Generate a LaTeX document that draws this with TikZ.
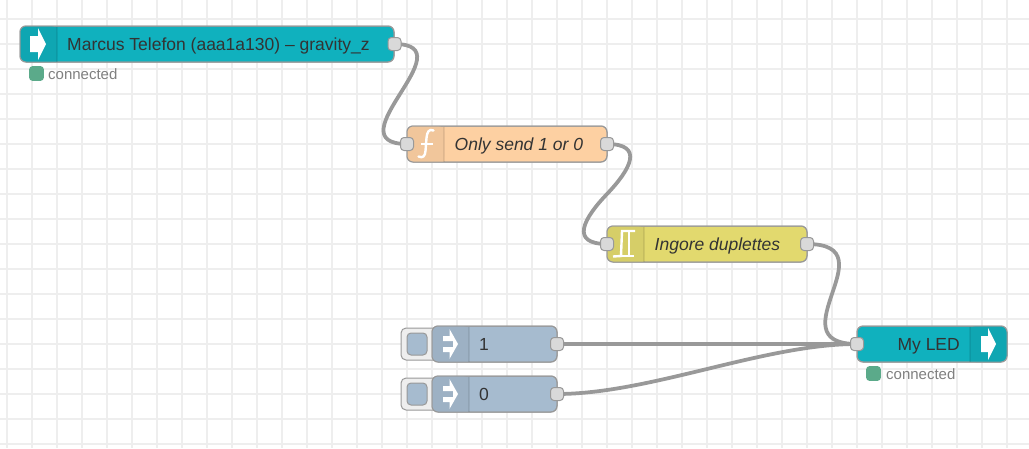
\documentclass[tikz,border=0pt]{standalone}
\usepackage{fontspec}
\setmainfont{Liberation Sans}
\definecolor{gridc}{HTML}{EEEEEE}
\definecolor{wirec}{HTML}{999999}
\definecolor{teal}{HTML}{10B1BE}
\definecolor{tealicon}{HTML}{0FA6B2}
\definecolor{peach}{HTML}{FDD0A2}
\definecolor{peachicon}{HTML}{F1C69B}
\definecolor{olive}{HTML}{E2D96E}
\definecolor{oliveicon}{HTML}{D6CE68}
\definecolor{steel}{HTML}{A6BBCF}
\definecolor{steelicon}{HTML}{9DB1C4}
\definecolor{portc}{HTML}{D9D9D9}
\definecolor{statusc}{HTML}{5BAA8A}
\definecolor{textc}{HTML}{333333}
\tikzset{
  x=1pt,y=-1pt,
  flownode/.style={draw=wirec,line width=1pt,rounded corners=6pt},
  iconsep/.style={draw=black,draw opacity=0.08,line width=1.25pt},
  portbox/.style={draw=wirec,fill=portc,line width=1pt,rounded corners=3.5pt,minimum width=13pt,minimum height=13pt,inner sep=0pt,outer sep=0pt},
  wire/.style={draw=wirec,line width=3.75pt},
  lbl/.style={font=\fontsize{17.5}{20}\selectfont,text=textc,inner sep=0pt,anchor=base west},
  ilbl/.style={lbl,font=\fontsize{17.5}{20}\selectfont\itshape},
  statuslbl/.style={font=\fontsize{15}{18}\selectfont,text=black!50,inner sep=0pt,anchor=base west},
  statusdot/.style={fill=statusc,draw=statusc,line width=1pt,rounded corners=3pt},
  glyph/.style={fill=white,draw=none},
  glyphline/.style={draw=white,line width=2.4pt}
}
\begin{document}
\begin{tikzpicture}
\useasboundingbox (0,0) rectangle (1029,448);
\fill[white] (0,0) rectangle (1029,448);
% grid
\foreach \gx in {7,32,...,1029} \draw[gridc,line width=2pt] (\gx,0) -- (\gx,448);
\foreach \gy in {19,44,...,448} \draw[gridc,line width=2pt] (0,\gy) -- (1029,\gy);

% wires
\coordinate (w1a) at (394.5,44);
\coordinate (w2b) at (407,144);
\coordinate (w2a) at (607,144);
\coordinate (w3b) at (607,244);
\coordinate (w3a) at (807,244);
\coordinate (w4a) at (557,344);
\coordinate (w5a) at (557,394);
\coordinate (w6b) at (857,344);
\draw[wire] (w1a) .. controls (432,44) and (415,70) .. (400,94) .. controls (385,118) and (369,144) .. (w2b);
\draw[wire] (w2a) .. controls (645,144) and (630,170) .. (607,194) .. controls (584,218) and (569,244) .. (w3b);
\draw[wire] (w3a) .. controls (850,244) and (840,270) .. (832,294) .. controls (824,318) and (815,344) .. (w6b);
\draw[wire] (w4a) -- (w6b);
\draw[wire] (w5a) .. controls (650,394) and (764,344) .. (w6b);

% inject buttons
\draw[draw=wirec,fill=gridc,line width=1pt,rounded corners=5pt] (436,328) -- (401,328) -- (401,360) -- (436,360);
\draw[draw=wirec,fill=steel,line width=1pt,rounded corners=4pt] (407,333) rectangle (427,355);
\draw[draw=wirec,fill=gridc,line width=1pt,rounded corners=5pt] (436,378) -- (401,378) -- (401,410) -- (436,410);
\draw[draw=wirec,fill=steel,line width=1pt,rounded corners=4pt] (407,383) rectangle (427,405);

% node bodies
\path[flownode,fill=teal] (20,26) rectangle (394,62);
\fill[tealicon,rounded corners=6pt] (20,26) rectangle (57,62);
\fill[tealicon] (40,26.5) rectangle (57,61.5);
\path[flownode] (20,26) rectangle (394,62);
\path[iconsep] (57,26.5) -- (57,61.5);

\path[flownode,fill=peach] (407,126) rectangle (607,162);
\fill[peachicon,rounded corners=6pt] (407,126) rectangle (444,162);
\fill[peachicon] (427,126.5) rectangle (444,161.5);
\path[flownode] (407,126) rectangle (607,162);
\path[iconsep] (444,126.5) -- (444,161.5);

\path[flownode,fill=olive] (607,226) rectangle (807,262);
\fill[oliveicon,rounded corners=6pt] (607,226) rectangle (644,262);
\fill[oliveicon] (627,226.5) rectangle (644,261.5);
\path[flownode] (607,226) rectangle (807,262);
\path[iconsep] (644,226.5) -- (644,261.5);

\path[flownode,fill=steel] (432,326) rectangle (557,362);
\fill[steelicon,rounded corners=6pt] (432,326) rectangle (469,362);
\fill[steelicon] (452,326.5) rectangle (469,361.5);
\path[flownode] (432,326) rectangle (557,362);
\path[iconsep] (469,326.5) -- (469,361.5);

\path[flownode,fill=steel] (432,376) rectangle (557,412);
\fill[steelicon,rounded corners=6pt] (432,376) rectangle (469,412);
\fill[steelicon] (452,376.5) rectangle (469,411.5);
\path[flownode] (432,376) rectangle (557,412);
\path[iconsep] (469,376.5) -- (469,411.5);

\path[flownode,fill=teal] (857,326) rectangle (1007,362);
\fill[tealicon,rounded corners=6pt] (970,326) rectangle (1007,362);
\fill[tealicon] (970,326.5) rectangle (987,361.5);
\path[flownode] (857,326) rectangle (1007,362);
\path[iconsep] (970,326.5) -- (970,361.5);

% icons
\fill[glyph] (30,36) -- (38,36) -- (38,28) -- (46,44) -- (38,60) -- (38,52) -- (30,52) -- cycle;
\fill[glyph] (981,336) -- (988,336) -- (988,328) -- (996,344) -- (988,360) -- (988,352) -- (981,352) -- cycle;
\foreach \oy in {0,50}{
\fill[glyph] (443,{336+\oy}) -- (449.5,{336+\oy}) -- (449.5,{329+\oy}) -- (458,{344+\oy}) -- (449.5,{359+\oy}) -- (449.5,{352+\oy}) -- (443,{352+\oy}) -- (443,{347+\oy}) -- (453,{347+\oy}) -- (453,{341+\oy}) -- (443,{341+\oy}) -- cycle;
}
\draw[glyphline,line cap=round] (433.5,130.5) .. controls (429,128.5) and (427,132) .. (426.5,138) -- (425.5,151) .. controls (425,156) and (423,158.5) .. (418.5,156.5);
\draw[glyphline] (421,144) -- (433,144);
\draw[glyphline] (635,231) -- (622,231) -- (621,256) -- (613,256.5);
\draw[glyphline] (629,232) -- (629,256);
\draw[glyphline] (621,256) -- (634,256);

% labels
\node[lbl] (t1) at (67,50) {Marcus Telefon (aaa1a130) – gravity\_z};
\node[ilbl] (t2) at (454.5,150) {Only send 1 or 0};
\node[ilbl] (t3) at (654.5,250) {Ingore duplettes};
\node[lbl] (t4) at (479,350) {1};
\node[lbl] (t5) at (479,400) {0};
\node[lbl,anchor=base east] (t6) at (960,350) {My LED};

% status
\path[statusdot] (29.6,66.6) rectangle (43.4,80.4);
\node[statuslbl] (s1) at (48,79) {connected};
\path[statusdot] (866.6,366.6) rectangle (880.4,380.4);
\node[statuslbl] (s2) at (886,379) {connected};

% ports
\node[portbox] (p1o) at (w1a) {};
\node[portbox] (p2i) at (w2b) {};
\node[portbox] (p2o) at (w2a) {};
\node[portbox] (p3i) at (w3b) {};
\node[portbox] (p3o) at (w3a) {};
\node[portbox] (p4o) at (w4a) {};
\node[portbox] (p5o) at (w5a) {};
\node[portbox] (p6i) at (w6b) {};
\end{tikzpicture}
\end{document}
